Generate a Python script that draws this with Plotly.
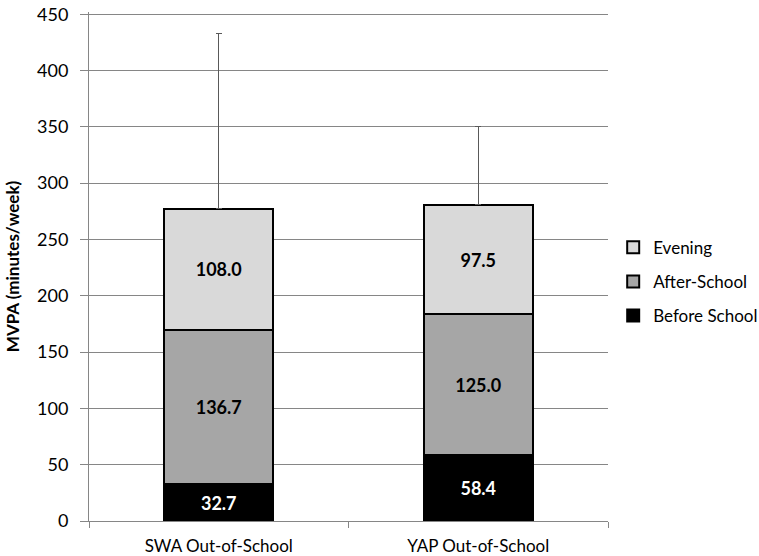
import plotly.graph_objects as go

categories = ["SWA Out-of-School", "YAP Out-of-School"]
before_school = [32.7, 58.4]
after_school = [136.7, 125.0]
evening = [108.0, 97.5]
sd_upper = [155.6, 69.0]

font = "Lato, Open Sans, sans-serif"

fig = go.Figure()

fig.add_trace(go.Bar(
    x=categories, y=before_school, name="Before School",
    legendgroup="b", legendrank=3,
    marker={"color": "#000000", "line": {"color": "#000000", "width": 2}},
    texttemplate="<b>%{y:.1f}</b>", textposition="inside",
    insidetextanchor="middle", textangle=0,
    textfont={"color": "#ffffff", "size": 18, "family": font},
))
fig.add_trace(go.Bar(
    x=categories, y=after_school, name="After-School",
    legendgroup="a", legendrank=2,
    marker={"color": "#a6a6a6", "line": {"color": "#000000", "width": 2}},
    texttemplate="<b>%{y:.1f}</b>", textposition="inside",
    insidetextanchor="middle", textangle=0,
    textfont={"color": "#000000", "size": 18, "family": font},
))
fig.add_trace(go.Bar(
    x=categories, y=evening, name="Evening",
    legendgroup="e", legendrank=1,
    marker={"color": "#d9d9d9", "line": {"color": "#000000", "width": 2}},
    texttemplate="<b>%{y:.1f}</b>", textposition="inside",
    insidetextanchor="middle", textangle=0,
    textfont={"color": "#000000", "size": 18, "family": font},
    error_y={"type": "data", "symmetric": False, "array": sd_upper,
             "arrayminus": [0, 0], "color": "#595959", "thickness": 1,
             "width": 3},
))

fig.update_layout(
    width=759, height=556,
    barmode="stack", bargap=0.58,
    margin={"l": 89, "r": 151, "t": 12, "b": 35, "autoexpand": False},
    paper_bgcolor="white", plot_bgcolor="white",
    font={"family": font, "size": 17, "color": "#000000"},
    showlegend=True,
    legend={"traceorder": "grouped", "x": 1.01, "xanchor": "left",
            "y": 0.47, "yanchor": "middle", "font": {"size": 17},
            "itemwidth": 30, "tracegroupgap": 9},
)

fig.update_xaxes(
    showline=True, linecolor="#868686", linewidth=1,
    ticks="outside", tickson="boundaries", ticklen=6, tickcolor="#868686",
    tickfont={"size": 17}, ticklabelstandoff=10, automargin=False,
)
fig.update_yaxes(
    range=[0, 452], tick0=0, dtick=50, showgrid=True, gridcolor="#868686",
    gridwidth=1, showline=True, linecolor="#868686", linewidth=1,
    ticks="outside", ticklen=8, tickcolor="#868686",
    tickfont={"size": 18}, ticklabelstandoff=8, automargin=False,
    ticklabeloverflow="allow",
    title={"text": "<b>MVPA (minutes/week)</b>", "font": {"size": 17},
           "standoff": 13},
    zeroline=False,
)

fig.write_html("out.html", config={"displayModeBar": False},
               post_script="document.body.style.margin = '0';")
